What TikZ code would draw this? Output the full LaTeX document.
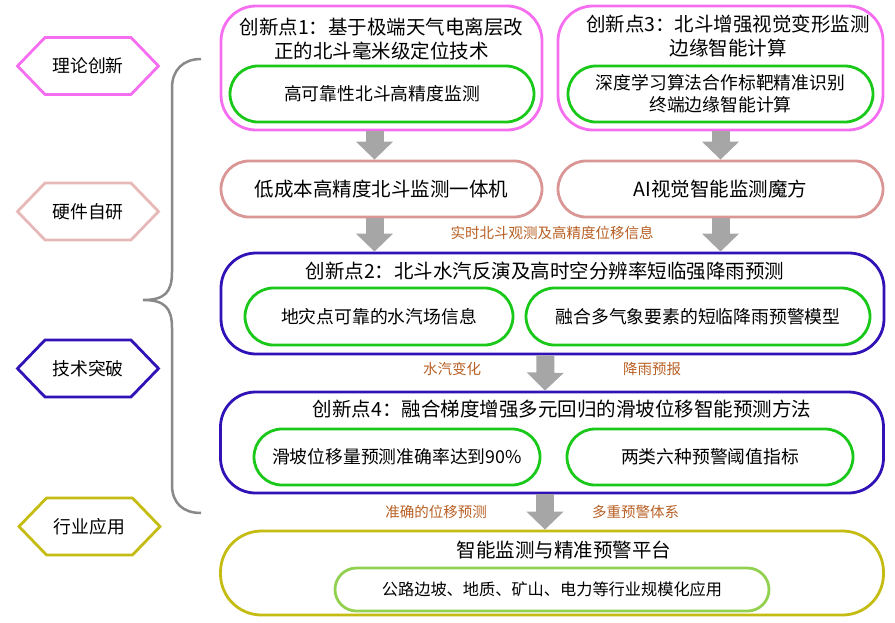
\documentclass[tikz,border=0pt]{standalone}
\usepackage{fontspec}
\setmainfont{Noto Sans CJK SC}
\usetikzlibrary{arrows.meta,shapes.symbols,shapes.misc}

\definecolor{innopink}{RGB}{246,110,240}
\definecolor{innogreen}{RGB}{25,200,25}
\definecolor{hwred}{RGB}{217,150,148}
\definecolor{hwpink}{RGB}{230,185,184}
\definecolor{techblue}{RGB}{48,18,182}
\definecolor{appolive}{RGB}{196,188,18}
\definecolor{applight}{RGB}{146,208,80}
\definecolor{flowgray}{RGB}{166,166,166}
\definecolor{bracegray}{RGB}{137,137,137}
\definecolor{flowtext}{RGB}{184,95,35}

\newcommand\titlefs{\fontsize{19.5pt}{24pt}\selectfont}
\newcommand\innerfs{\fontsize{17.8pt}{22pt}\selectfont}
\newcommand\appfs{\fontsize{16.2pt}{20pt}\selectfont}
\newcommand\labelfs{\fontsize{14.5pt}{17pt}\selectfont}

\begin{document}
\begin{tikzpicture}[x=1pt,y=-1pt,
    outerbox/.style={draw,line width=2.8pt,rounded corners=35pt,inner sep=0pt},
    pill/.style={draw,line width=2.8pt,rounded rectangle,inner sep=0pt,font=\innerfs,align=center},
    hexbox/.style={draw,line width=2.8pt,signal,signal to=west and east,signal pointer angle=92,
        minimum width=141pt,minimum height=57pt,inner sep=0pt,font=\innerfs},
    flow/.style={line width=18pt,draw=flowgray,-{Triangle[width=36pt,length=18pt]}},
    flowlabel/.style={text=flowtext,font=\labelfs}]
    \useasboundingbox (0,0) rectangle (895,622);

    % left column
    \node[hexbox,draw=innopink] (theory) at (88,66) {理论创新};
    \node[hexbox,draw=hwpink] (hardware) at (88,211.5) {硬件自研};
    \node[hexbox,draw=techblue] (tech) at (88,368.5) {技术突破};
    \node[hexbox,draw=appolive] (industry) at (89.5,526.5) {行业应用};

    \draw[bracegray,line width=2.5pt] (201,59) .. controls (183,59) and (172,70) .. (172,88)
        -- (172,272) .. controls (172,292) and (165,300) .. (143,300)
        .. controls (165,300) and (172,308) .. (172,328)
        -- (172,485) .. controls (172,503) and (183,513) .. (201,513);

    % innovation 1 and 3
    \node[outerbox,draw=innopink,minimum width=321pt,minimum height=124pt] (inno1) at (381.5,68) {};
    \node[font=\titlefs,align=center] (inno1t) at (381.5,39) {创新点1：基于极端天气电离层改\\正的北斗毫米级定位技术};
    \node[pill,draw=innogreen,minimum width=304pt,minimum height=56pt] (reliable) at (382,94) {高可靠性北斗高精度监测};

    \node[outerbox,draw=innopink,minimum width=325pt,minimum height=124pt] (inno3) at (720.5,68) {};
    \node[font=\titlefs,align=center] (inno3t) at (728,36) {创新点3：北斗增强视觉变形监测\\边缘智能计算};
    \node[pill,draw=innogreen,minimum width=305pt,minimum height=56pt] (deep) at (720.5,94)
        {深度学习算法合作标靶精准识别\\终端边缘智能计算};

    % hardware
    \node[pill,draw=hwred,font=\titlefs,minimum width=321pt,minimum height=56pt] (gnss) at (381.5,189) {低成本高精度北斗监测一体机};
    \node[pill,draw=hwred,font=\titlefs,minimum width=325pt,minimum height=56pt] (cube) at (720.5,189) {AI视觉智能监测魔方};

    % innovation 2
    \node[outerbox,draw=techblue,minimum width=663pt,minimum height=101pt] (inno2) at (552.5,303.5) {};
    \node[font=\titlefs] (inno2t) at (545,271) {创新点2：北斗水汽反演及高时空分辨率短临强降雨预测};
    \node[pill,draw=innogreen,minimum width=268pt,minimum height=57pt] (vapor) at (379,316.5) {地灾点可靠的水汽场信息};
    \node[pill,draw=innogreen,minimum width=344pt,minimum height=57pt] (rainmodel) at (698,316.5) {融合多气象要素的短临降雨预警模型};

    % innovation 4
    \node[outerbox,draw=techblue,minimum width=663pt,minimum height=101pt] (inno4) at (552,442.5) {};
    \node[font=\titlefs] (inno4t) at (562,409) {创新点4：融合梯度增强多元回归的滑坡位移智能预测方法};
    \node[pill,draw=innogreen,minimum width=286pt,minimum height=56pt] (accuracy) at (397,457) {滑坡位移量预测准确率达到90\%};
    \node[pill,draw=innogreen,minimum width=286pt,minimum height=56pt] (threshold) at (710,457) {两类六种预警阈值指标};

    % platform
    \node[outerbox,draw=appolive,rounded corners=41pt,minimum width=663pt,minimum height=84pt] (platform) at (552,573) {};
    \node[font=\titlefs] (platformt) at (564,550) {智能监测与精准预警平台};
    \node[pill,draw=applight,font=\appfs,minimum width=434pt,minimum height=43pt] (scale) at (552,589.5)
        {公路边坡、地质、矿山、电力等行业规模化应用};

    % flows
    \draw[flow] ([xshift=-7pt]inno1.south) -- ([xshift=-7pt]gnss.north);
    \draw[flow] (inno3.south) -- (cube.north);
    \draw[flow] ([xshift=-7pt]gnss.south) -- ([xshift=-7pt]gnss.south |- inno2.north);
    \draw[flow] (cube.south) -- (cube.south |- inno2.north);
    \draw[flow] ([xshift=-7pt]inno2.south) -- ([xshift=-7pt]inno4.north);
    \draw[flow] ([xshift=-7pt]inno4.south) -- ([xshift=-7pt]platform.north);

    \node[flowlabel] (realtime) at (552,233) {实时北斗观测及高精度位移信息};
    \node[flowlabel] (vaporchg) at (452,369) {水汽变化};
    \node[flowlabel] (rainfc) at (652,369) {降雨预报};
    \node[flowlabel] (dispfc) at (436,512) {准确的位移预测};
    \node[flowlabel] (warnsys) at (635.5,512) {多重预警体系};
\end{tikzpicture}
\end{document}
